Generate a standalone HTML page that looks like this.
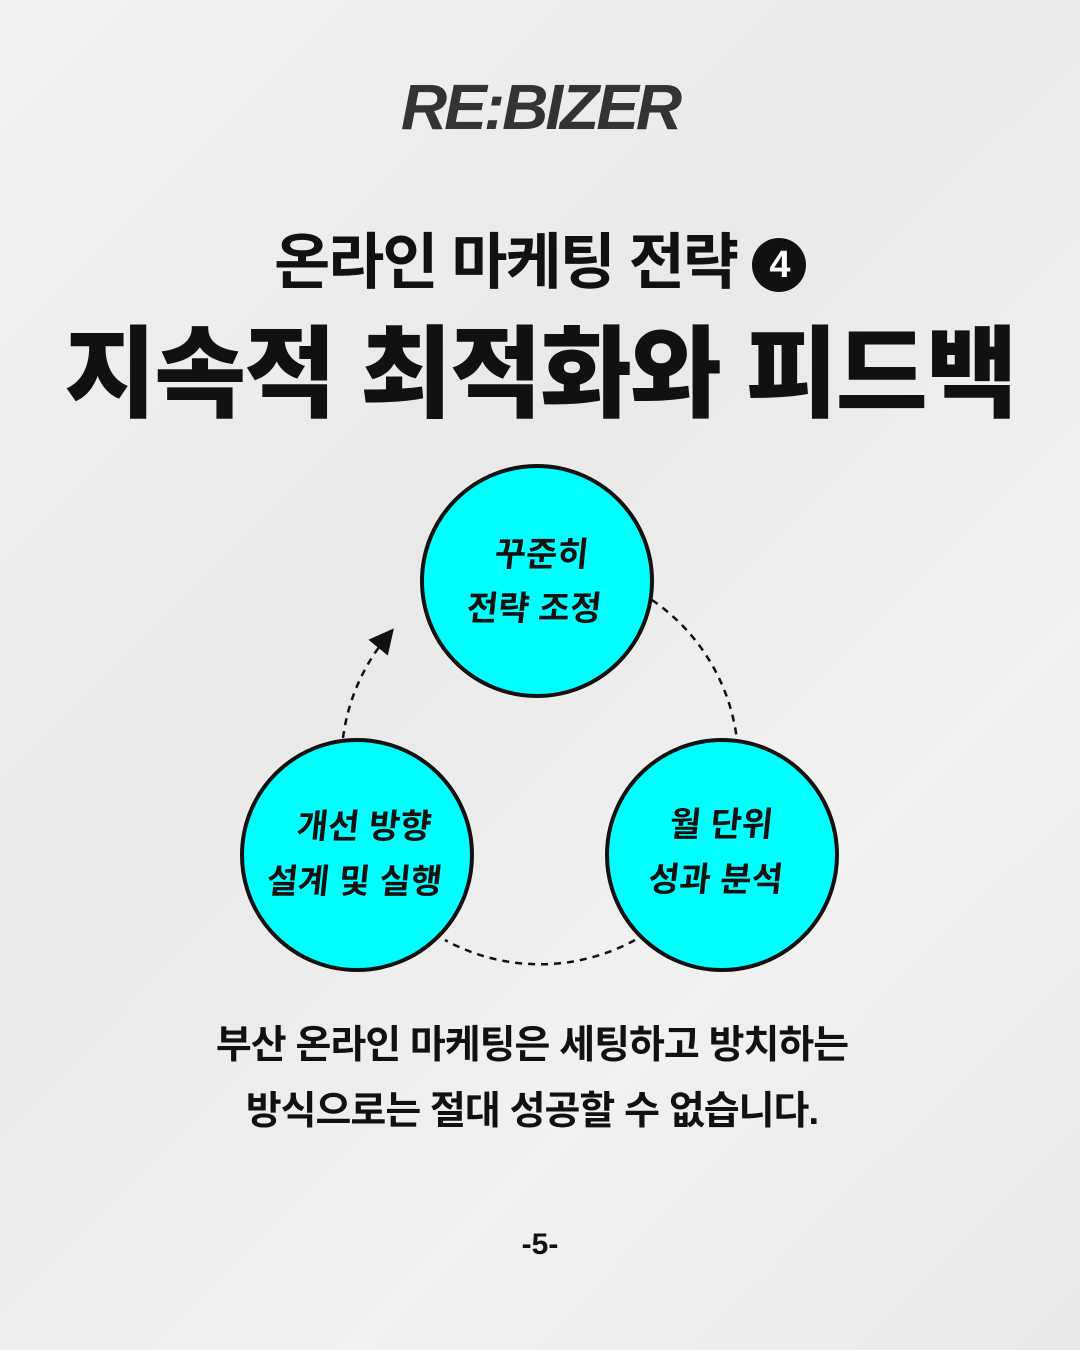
<!DOCTYPE html>
<html><head><meta charset="utf-8"><style>
html,body{margin:0;padding:0}
body{width:1080px;height:1350px;background:linear-gradient(135deg,#f2f2f2,#e9e9e9 40%,#f1f1f1 70%,#e8e8e8);position:relative;overflow:hidden;font-family:"Liberation Sans","Noto Sans CJK KR",sans-serif;color:#111}
.t{position:absolute;left:0;width:1080px;text-align:center;white-space:nowrap}
</style></head><body>
<div class="t" style="top:70px;font-size:64px;font-weight:bold;font-style:italic;color:#333;letter-spacing:-3px">RE:BIZER</div>
<div class="t" style="top:212px;font-size:61px;font-weight:bold;letter-spacing:-2px">온라인 마케팅 전략 <span style="display:inline-block;width:54px;height:54px;border-radius:50%;background:#111;color:#fff;font-size:38px;line-height:54px;font-weight:bold;vertical-align:6px">4</span></div>
<div class="t" style="top:293px;font-size:100px;font-weight:900;letter-spacing:-2px">지속적 최적화와 피드백</div>
<svg style="position:absolute;left:0;top:0" width="1080" height="1350">
<defs><marker id="a" markerWidth="10" markerHeight="10" refX="5" refY="5" orient="auto"><path d="M0,0 L10,5 L0,10 z" fill="#111"/></marker></defs>
<g fill="none" stroke="#111" stroke-width="2.5" stroke-dasharray="7,6">
<path d="M652,600 A198,198 0 0 1 737,740"/>
<path d="M635,940 A198,198 0 0 1 445,940"/>
<path d="M343,738 A198,198 0 0 1 386,638" marker-end="url(#a)"/>
</g>
<g fill="#00ffff" stroke="#111" stroke-width="4">
<circle cx="537" cy="581" r="115"/><circle cx="357" cy="855" r="115"/><circle cx="722" cy="855" r="115"/>
</g>
<g font-family="Liberation Sans,Noto Sans CJK KR,sans-serif" font-weight="bold" font-size="34" text-anchor="middle" fill="#111" transform="skewX(-6)">
<text x="600" y="566">꾸준히</text><text x="598" y="620">전략 조정</text>
<text x="451" y="838">개선 방향</text><text x="447" y="893">설계 및 실행</text>
<text x="808" y="836">월 단위</text><text x="808" y="891">성과 분석</text>
</g>
</svg>
<div class="t" style="top:1014px;left:-8px;font-size:39px;font-weight:bold;letter-spacing:-1px">부산 온라인 마케팅은 세팅하고 방치하는</div>
<div class="t" style="top:1080px;left:-8px;font-size:39px;font-weight:bold;letter-spacing:-1px">방식으로는 절대 성공할 수 없습니다.</div>
<div class="t" style="top:1228px;font-size:30px;font-weight:bold">-5-</div>
</body></html>
